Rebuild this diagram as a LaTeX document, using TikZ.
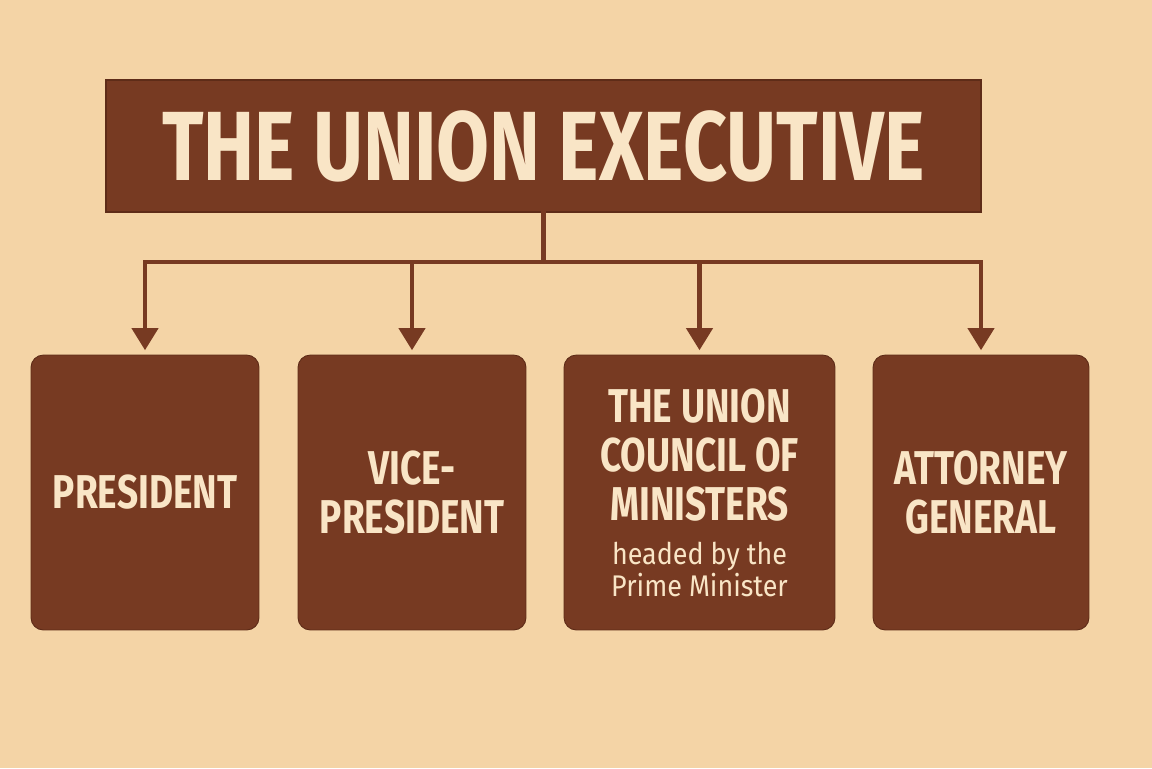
\documentclass[tikz,border=0pt]{standalone}
\usepackage{fontspec}
\setmainfont{Fira Sans}
\newfontfamily\condfont[FakeStretch=0.78]{Fira Sans}
\newfontfamily\subfont[FakeStretch=0.9]{Fira Sans}
\usetikzlibrary{arrows.meta,positioning}
\definecolor{paper}{HTML}{F4D4A6}
\definecolor{bark}{HTML}{773A22}
\definecolor{barkedge}{HTML}{5E2C18}
\definecolor{cream}{HTML}{F9E5C6}
\tikzstyle{title} = [rectangle, fill=bark, draw=barkedge, line width=0.8pt, minimum width=17.5cm, minimum height=2.64cm, text=cream, font=\condfont\bfseries\fontsize{56}{62}\selectfont]
\tikzstyle{office} = [rectangle, rounded corners=7pt, fill=bark, draw=barkedge, line width=0.5pt, minimum height=5.5cm, text=cream, align=center, font=\condfont\bfseries\fontsize{27}{28}\selectfont]
\tikzstyle{link} = [line width=2.3pt, draw=bark, line cap=rect]
\tikzstyle{arrow} = [line width=2.3pt, draw=bark, -{Triangle[width=5.2mm,length=4.4mm]}, fill=bark, shorten >=2.5pt]

\begin{document}
\begin{tikzpicture}[x=0.02cm,y=-0.02cm]
	\fill[paper] (0,0) rectangle (1152,768);
	\useasboundingbox (0,0) rectangle (1152,768);
	\node[title] (exec) at (543.5,146) {THE UNION EXECUTIVE};
	\node[office, minimum width=4.56cm] (pres) at (145,492.5) {PRESIDENT};
	\node[office, minimum width=4.56cm] (vice) at (412,492.5) {VICE-\\PRESIDENT};
	\node[office, minimum width=5.42cm] (council) at (699.5,492.5) {THE UNION\\COUNCIL OF\\MINISTERS\\[-3pt]{\subfont\mdseries\fontsize{17}{16}\selectfont headed by the}\\[-10pt]{\subfont\mdseries\fontsize{17}{16}\selectfont Prime Minister}};
	\node[office, minimum width=4.32cm] (ag) at (981,492.5) {ATTORNEY\\GENERAL};
	\coordinate (bus) at (543.5,262);
	\draw[link] (exec.south) -- (bus);
	\draw[link] (pres.north |- bus) -- (ag.north |- bus);
	\draw[arrow] (pres.north |- bus) -- (pres.north);
	\draw[arrow] (vice.north |- bus) -- (vice.north);
	\draw[arrow] (council.north |- bus) -- (council.north);
	\draw[arrow] (ag.north |- bus) -- (ag.north);
\end{tikzpicture}
\end{document}
